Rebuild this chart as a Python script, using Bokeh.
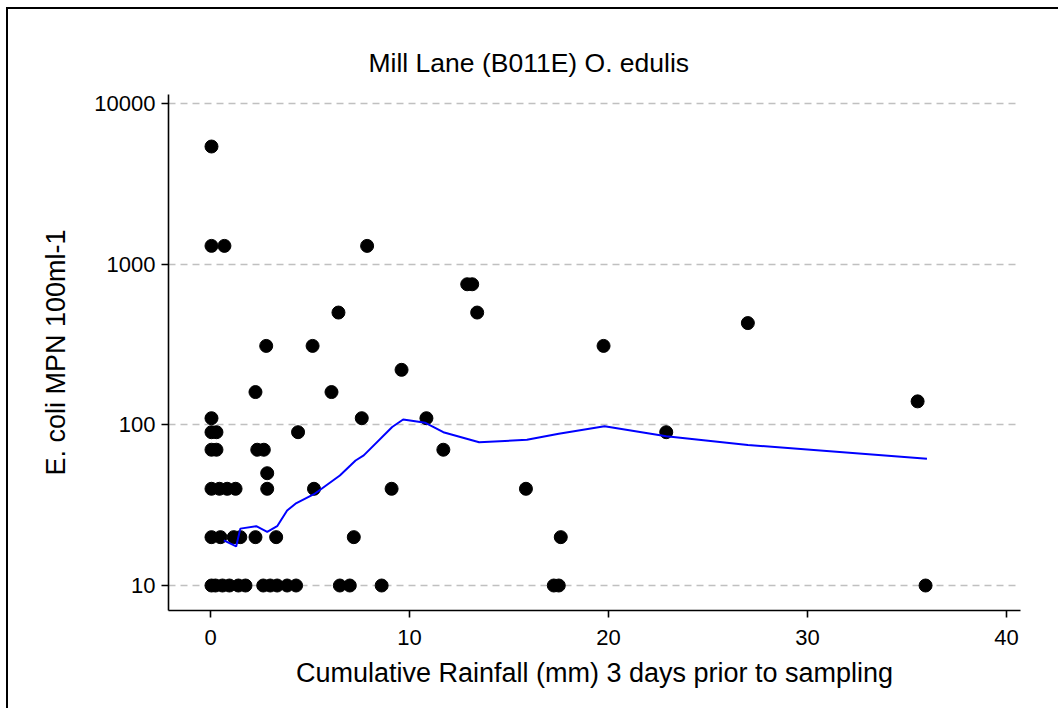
from bokeh.plotting import figure
from bokeh.models import FixedTicker, PrintfTickFormatter, Range1d
from bokeh.embed import file_html
from bokeh.resources import INLINE

# Scatter data: cumulative rainfall (mm) vs E. coli MPN/100ml
rain = [0.05, 0.05, 0.7, 7.87,
        12.9, 13.15, 6.43, 13.4, 27.0,
        2.8, 5.13, 19.75, 9.6, 2.26, 6.08, 35.53,
        0.05, 7.6, 10.85,
        0.05, 0.3, 4.4, 22.9,
        0.05, 0.3, 2.35, 2.68, 11.7,
        2.85,
        0.05, 0.45, 0.84, 1.26, 2.85, 5.2, 9.1, 15.85,
        0.05, 0.5, 1.17, 1.5, 2.26, 3.3, 7.2, 17.6,
        0.05, 0.25, 0.6, 0.95, 1.4, 1.76, 2.65, 3.0, 3.35, 3.85, 4.3,
        6.5, 7.0, 8.6, 17.25, 17.5, 35.93]
ecoli = [5400, 1300, 1300, 1300,
         750, 750, 500, 500, 430,
         310, 310, 310, 220, 160, 160, 140,
         110, 110, 110,
         90, 90, 90, 90,
         70, 70, 70, 70, 70,
         50,
         40, 40, 40, 40, 40, 40, 40, 40,
         20, 20, 20, 20, 20, 20, 20, 20,
         10, 10, 10, 10, 10, 10, 10, 10, 10, 10, 10,
         10, 10, 10, 10, 10, 10]

# Smoothed (lowess) trend line
trend_x = [0.67, 1.29, 1.5, 2.3, 2.85, 3.35, 3.85, 4.27, 5.2, 6.5, 7.04, 7.29,
           7.7, 9.13, 9.68, 10.8, 11.7, 13.5, 15.9, 17.5, 19.8, 22.9, 27.0, 36.0]
trend_y = [19.1, 17.5, 22.6, 23.4, 21.6, 23.4, 29.3, 32.3, 37, 48.4, 56, 60,
           64.6, 97, 108, 103, 90, 78, 80.7, 88, 98, 85, 75, 61.5]

x_ticks = [0, 10, 20, 30, 40]
y_ticks = [10, 100, 1000, 10000]

FONT = "Liberation Sans"

p = figure(width=1052, height=701, y_axis_type="log",
           x_range=Range1d(-2.11, 40.7), y_range=Range1d(6.99, 11380),
           output_backend="svg", toolbar_location=None,
           min_border_left=160, min_border_right=40,
           min_border_top=85, min_border_bottom=100,
           title="Mill Lane (B011E) O. edulis")
p.styles = {"margin-left": "6px", "margin-top": "7px",
            "border-left": "2px solid black", "border-top": "2px solid black"}

p.outline_line_color = None
p.background_fill_color = "white"
p.border_fill_color = "white"

p.title.text_font = FONT
p.title.text_font_size = "26.5px"
p.title.text_font_style = "normal"
p.title.text_color = "black"
p.title.align = "left"
p.title.offset = 200
p.title.standoff = 33

p.xgrid.grid_line_color = None
p.ygrid.grid_line_color = "#c0c0c0"
p.ygrid.grid_line_dash = "7 5"
p.ygrid.grid_line_width = 1.5
p.ygrid.ticker = FixedTicker(ticks=y_ticks)

for ax in (p.xaxis[0], p.yaxis[0]):
    ax.axis_line_color = "black"
    ax.axis_line_width = 1.6
    ax.major_tick_line_color = "black"
    ax.major_tick_line_width = 1.6
    ax.major_tick_out = 7
    ax.major_tick_in = 0
    ax.minor_tick_line_color = None
    ax.major_label_text_font = FONT
    ax.major_label_text_font_size = "22px"
    ax.major_label_text_color = "black"
    ax.axis_label_text_font = FONT
    ax.axis_label_text_font_size = "27px"
    ax.axis_label_text_font_style = "normal"
    ax.axis_label_text_color = "black"

p.xaxis.ticker = FixedTicker(ticks=x_ticks)
p.yaxis.ticker = FixedTicker(ticks=y_ticks)
p.yaxis.formatter = PrintfTickFormatter(format="%d")
p.yaxis.major_label_orientation = "horizontal"
p.xaxis.major_label_standoff = 12
p.yaxis.major_label_standoff = 6
p.xaxis.axis_label = "Cumulative Rainfall (mm) 3 days prior to sampling"
p.yaxis.axis_label = "E. coli MPN 100ml-1"
p.xaxis.axis_label_standoff = 10
p.yaxis.axis_label_standoff = 20

p.scatter(rain, ecoli, size=13, color="black", line_color="black")
p.line(trend_x, trend_y, line_color="#0000ff", line_width=2)

open("out.html", "w").write(file_html(p, INLINE))
